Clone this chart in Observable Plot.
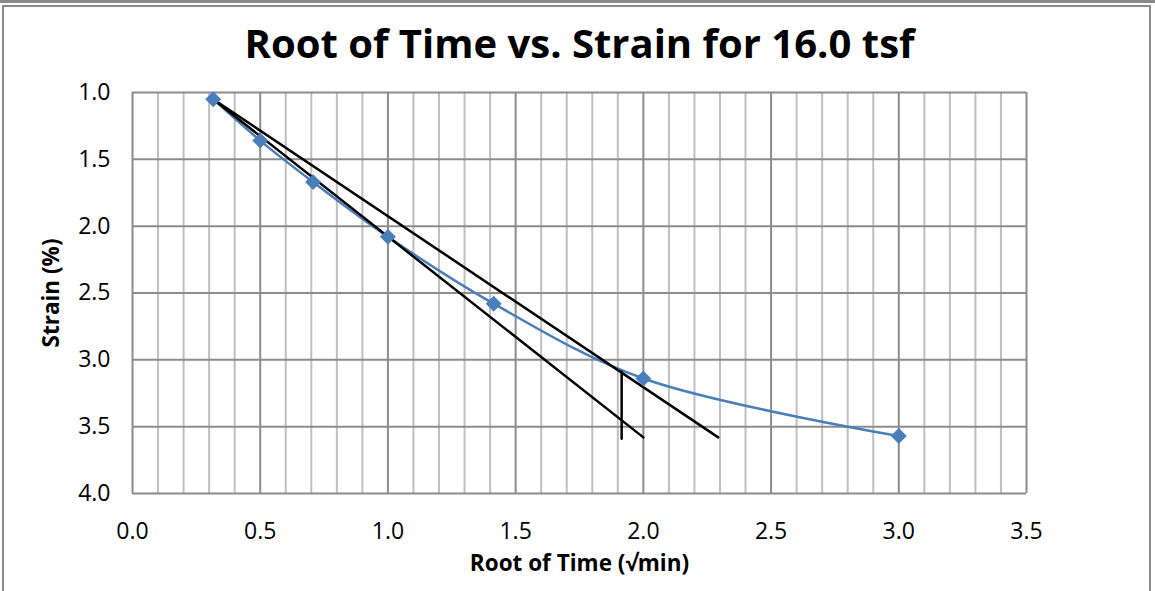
<!DOCTYPE html>
<html>
<head>
<meta charset="utf-8">
<script src="https://cdn.jsdelivr.net/npm/d3@7"></script>
<script src="https://cdn.jsdelivr.net/npm/@observablehq/plot@0.6"></script>
<style>
  html, body { margin: 0; padding: 0; background: #fff; }
  #wrap { position: relative; width: 1155px; height: 591px; overflow: hidden; }
  #topline { position: absolute; left: 0; top: 0; width: 1155px; height: 3px; background: #8a8a8a; }
  #frame { position: absolute; left: 2px; top: 5px; width: 1149px; height: 600px; border: 2px solid #8a8a8a; box-sizing: border-box; }
  #chart { position: absolute; left: 0; top: 0; }
  svg text { font-family: "Open Sans", Lato, sans-serif; }
</style>
</head>
<body>
<div id="wrap">
  <div id="topline"></div>
  <div id="frame"></div>
  <div id="chart"></div>
</div>
<script>
const title = "Root of Time vs. Strain for 16.0 tsf";
const xLabel = "Root of Time (\u221Amin)";
const yLabel = "Strain (%)";

// Measured data
const rootTime = [0.316, 0.5, 0.707, 1.0, 1.414, 2.0, 3.0];
const strain   = [1.05, 1.36, 1.67, 2.08, 2.58, 3.14, 3.57];

// Construction lines (Taylor's method)
const lineA = {x: [0.316, 2.0],   y: [1.05, 3.58]};
const lineB = {x: [0.316, 2.293], y: [1.05, 3.58]};
const vLine = {x: [1.915, 1.915], y: [3.09, 3.59]};

const xTicks = [0, 0.5, 1.0, 1.5, 2.0, 2.5, 3.0, 3.5];
const xMinorTicks = d3.range(0, 35).map(i => i / 10).filter(v => Math.round(v * 10) % 5 !== 0);
const yTicks = [1.0, 1.5, 2.0, 2.5, 3.0, 3.5, 4.0];
const fmt = d3.format(".1f");

const pts = rootTime.map((x, i) => ({x, y: strain[i]}));
const toPts = o => o.x.map((x, i) => ({x, y: o.y[i]}));

const chart = Plot.plot({
  width: 1155,
  height: 591,
  marginLeft: 132,
  marginRight: 129,
  marginTop: 92,
  marginBottom: 98,
  style: {fontFamily: "'Open Sans', Lato, sans-serif", background: "transparent", color: "#000"},
  x: {domain: [0, 3.5], label: null, axis: null},
  y: {domain: [1.0, 4.0], reverse: true, label: null, axis: null},
  marks: [
    Plot.ruleX(xMinorTicks, {stroke: "#bfbfbf", strokeWidth: 2}),
    Plot.ruleX(xTicks, {stroke: "#8c8c8c", strokeWidth: 2}),
    Plot.ruleY(yTicks, {stroke: "#8c8c8c", strokeWidth: 2}),
    Plot.line(pts, {x: "x", y: "y", stroke: "#4a7ebb", strokeWidth: 2.5, curve: "catmull-rom"}),
    Plot.line(toPts(lineA), {x: "x", y: "y", stroke: "#000", strokeWidth: 2.5}),
    Plot.line(toPts(lineB), {x: "x", y: "y", stroke: "#000", strokeWidth: 2.5}),
    Plot.line(toPts(vLine), {x: "x", y: "y", stroke: "#000", strokeWidth: 2.5}),
    Plot.dot(pts, {x: "x", y: "y", symbol: "diamond2", r: 6.2, fill: "#4a7ebb", stroke: "#4a7ebb"}),
    Plot.text(xTicks, {x: d => d, frameAnchor: "bottom", lineAnchor: "middle", dy: 38, text: fmt, fontSize: 23, fill: "#000"}),
    Plot.text(yTicks, {y: d => d, frameAnchor: "left", lineAnchor: "middle", dx: -22, textAnchor: "end", text: fmt, fontSize: 23, fill: "#000"}),
    Plot.text([title], {frameAnchor: "top", lineAnchor: "middle", dy: -47, fontSize: 40, fontWeight: "bold", fill: "#000"}),
    Plot.text([xLabel], {frameAnchor: "bottom", lineAnchor: "middle", dy: 70, fontSize: 22.5, fontWeight: "bold", fill: "#000"}),
    Plot.text([yLabel], {frameAnchor: "left", lineAnchor: "middle", textAnchor: "middle", dx: -81, rotate: -90, fontSize: 22.5, fontWeight: "bold", fill: "#000"})
  ]
});
document.getElementById("chart").appendChild(chart);
</script>
</body>
</html>
